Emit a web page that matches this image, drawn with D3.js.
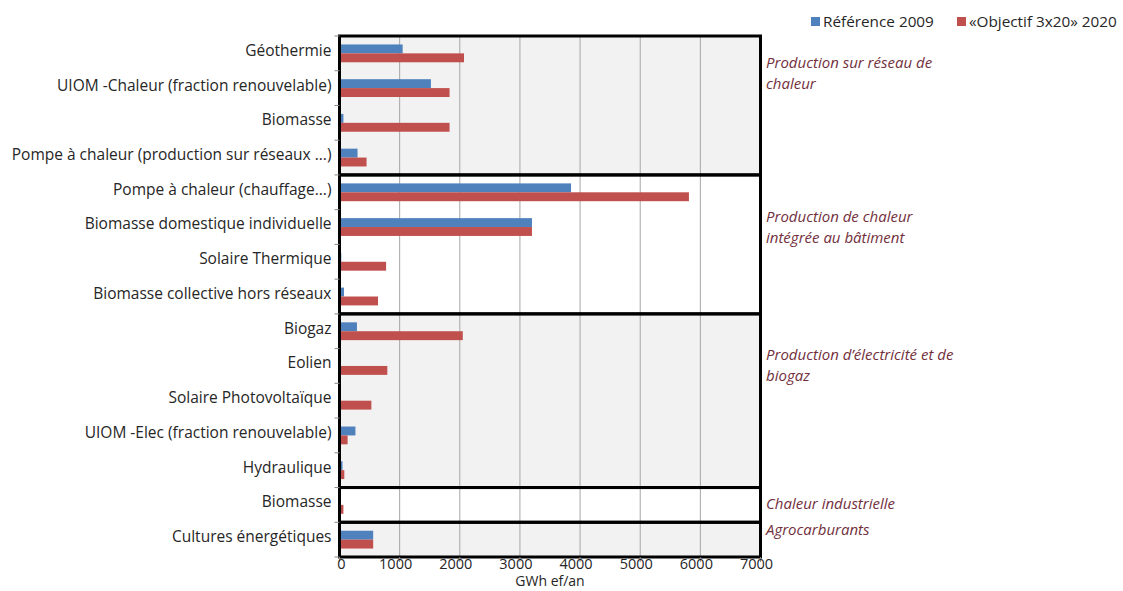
<!DOCTYPE html>
<html lang="fr">
<head>
<meta charset="UTF-8">
<title>Énergies renouvelables</title>
<style>
  body { margin: 0; background: #fff; }
  svg { font-family: "Open Sans", sans-serif; }
  .ylbl { font-size: 15.5px; fill: #262626; }
  .xlbl { font-size: 14.5px; fill: #262626; }
  .xttl { font-size: 14px; fill: #262626; }
  .grp { font-size: 15px; font-style: italic; fill: #72303c; }
  .leg { font-size: 15.3px; fill: #262626; }
</style>
</head>
<body>
<svg id="chart" width="1123" height="591"></svg>
<script src="https://cdn.jsdelivr.net/npm/d3@7"></script>
<script>
const categories = [
  "Géothermie",
  "UIOM -Chaleur (fraction renouvelable)",
  "Biomasse",
  "Pompe à chaleur (production sur réseaux ...)",
  "Pompe à chaleur (chauffage...)",
  "Biomasse domestique individuelle",
  "Solaire Thermique",
  "Biomasse collective hors réseaux",
  "Biogaz",
  "Eolien",
  "Solaire Photovoltaïque",
  "UIOM -Elec (fraction renouvelable)",
  "Hydraulique",
  "Biomasse",
  "Cultures énergétiques"
];
const ref2009 = [1050, 1520, 65, 300, 3850, 3200, 30, 75, 290, 0, 20, 265, 50, 25, 560];
const obj2020 = [2070, 1830, 1830, 450, 5810, 3200, 775, 640, 2050, 795, 530, 135, 80, 65, 560];
const seriesNames = ["Référence 2009", "«Objectif 3x20» 2020"];
const seriesColors = ["#4f81bd", "#c0504d"];
// groups: [label lines, first row, last row]
const groups = [
  [["Production sur réseau de", "chaleur"], 0, 3],
  [["Production de chaleur", "intégrée au bâtiment"], 4, 7],
  [["Production d’électricité et de", "biogaz"], 8, 12],
  [["Chaleur industrielle"], 13, 13],
  [["Agrocarburants"], 14, 14]
];
const xTicks = [0, 1000, 2000, 3000, 4000, 5000, 6000, 7000];

const svg = d3.select("#chart");
const plotL = 339.5, plotR = 760.5, plotT = 36, plotB = 557;
// baseline offset of each group's label from the group's top edge
const grpLabelDy = [32, 47, 46, 21, 13];

const x = d3.scaleLinear().domain([0, 7000]).range([plotL, plotR]);
const y = d3.scaleBand().domain(d3.range(categories.length)).range([plotT, plotB]);
const inner = d3.scaleBand().domain([0, 1]).range([0, y.bandwidth()]).paddingOuter(0.95).paddingInner(0);

// group backgrounds
groups.forEach((g, i) => {
  const y0 = y(g[1]), y1 = y(g[2]) + y.bandwidth();
  svg.append("rect")
    .attr("x", plotL).attr("y", y0)
    .attr("width", plotR - plotL).attr("height", y1 - y0)
    .attr("fill", i % 2 === 0 ? "#f2f2f2" : "#ffffff");
});

// gridlines
svg.append("g").selectAll("line")
  .data(xTicks.slice(1, -1))
  .join("line")
  .attr("x1", d => x(d)).attr("x2", d => x(d))
  .attr("y1", plotT).attr("y2", plotB)
  .attr("stroke", "#a6a6a6").attr("stroke-width", 1);

// bars
const rows = svg.append("g").selectAll("g")
  .data(categories.map((c, i) => [ref2009[i], obj2020[i]]))
  .join("g")
  .attr("transform", (d, i) => "translate(0," + y(i) + ")");

rows.selectAll("rect")
  .data(d => d)
  .join("rect")
  .attr("x", x(0))
  .attr("y", (d, j) => inner(j))
  .attr("width", d => x(d) - x(0))
  .attr("height", inner.bandwidth())
  .attr("fill", (d, j) => seriesColors[j]);

// group frames
groups.forEach(g => {
  const y0 = y(g[1]), y1 = y(g[2]) + y.bandwidth();
  svg.append("rect")
    .attr("x", plotL).attr("y", y0)
    .attr("width", plotR - plotL).attr("height", y1 - y0)
    .attr("fill", "none").attr("stroke", "#000").attr("stroke-width", 3);
});

// y axis ticks + labels
const yAxis = svg.append("g");
yAxis.selectAll("line")
  .data(d3.range(categories.length + 1))
  .join("line")
  .attr("x1", plotL - 5).attr("x2", plotL)
  .attr("y1", i => i < categories.length ? y(i) : plotB)
  .attr("y2", i => i < categories.length ? y(i) : plotB)
  .attr("stroke", "#888");
yAxis.selectAll("text")
  .data(categories)
  .join("text")
  .attr("class", "ylbl")
  .attr("x", plotL - 8)
  .attr("y", (d, i) => y(i) + y.bandwidth() / 2 - 3)
  .attr("dy", "0.35em")
  .attr("text-anchor", "end")
  .text(d => d);

// x axis
const xAxis = svg.append("g");
xAxis.selectAll("line")
  .data(xTicks)
  .join("line")
  .attr("x1", d => x(d)).attr("x2", d => x(d))
  .attr("y1", plotB).attr("y2", plotB + 5)
  .attr("stroke", "#888");
xAxis.selectAll("text")
  .data(xTicks)
  .join("text")
  .attr("class", "xlbl")
  .attr("x", d => d === 0 ? x(d) + 2 : x(d) - 4)
  .attr("y", plotB + 12)
  .attr("text-anchor", "middle")
  .text(d => d);
svg.append("text")
  .attr("class", "xttl")
  .attr("x", 550).attr("y", plotB + 29)
  .attr("text-anchor", "middle")
  .text("GWh ef/an");

// group labels
groups.forEach((g, i) => {
  const t = svg.append("text").attr("class", "grp")
    .attr("x", 766).attr("y", y(g[1]) + grpLabelDy[i]);
  g[0].forEach((line, k) => {
    t.append("tspan").attr("x", 766).attr("dy", k === 0 ? 0 : 21).text(line);
  });
});

// legend
const legX = [811, 957];
const leg = svg.append("g").selectAll("g")
  .data(seriesNames)
  .join("g")
  .attr("transform", (d, i) => "translate(" + legX[i] + ",17)");
leg.append("rect").attr("width", 9).attr("height", 9).attr("fill", (d, i) => seriesColors[i]);
leg.append("text").attr("class", "leg").attr("x", 12).attr("y", 10).text(d => d);
</script>
</body>
</html>
